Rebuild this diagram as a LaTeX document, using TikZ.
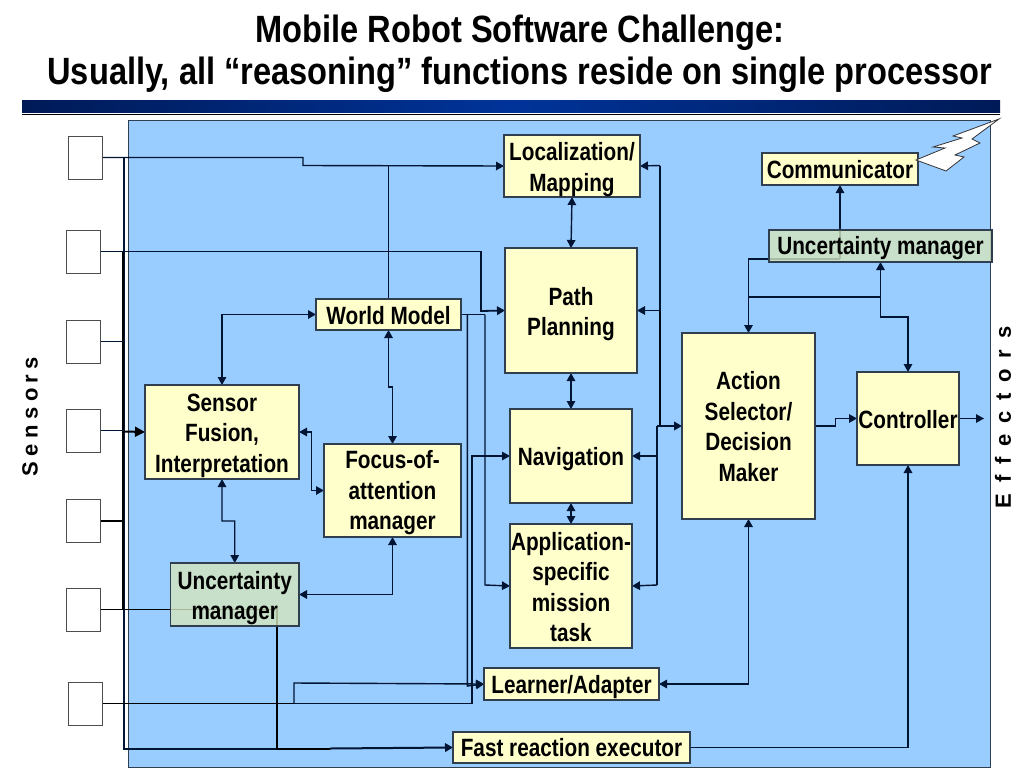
\documentclass[tikz,border=0pt]{standalone}
\usepackage{fontspec}
\setmainfont{Liberation Sans}
\newfontfamily\boxfont[FakeStretch=0.83]{Liberation Sans Bold}
\newfontfamily\titlefont[FakeStretch=0.858]{Liberation Sans Bold}
\newfontfamily\sidefont{Liberation Sans Bold}
\usetikzlibrary{arrows.meta,shadings}
\pgfdeclarelayer{panel}
\pgfdeclarelayer{wires}
\pgfsetlayers{panel,wires,main}
\definecolor{panelblue}{HTML}{99CCFF}
\definecolor{boxyellow}{HTML}{FFFFCC}
\definecolor{boxgreen}{HTML}{D4E5BC}
\definecolor{edgegray}{HTML}{2F3F4F}
\definecolor{wire}{HTML}{001433}
\definecolor{barDark}{HTML}{001A57}
\definecolor{barLight}{HTML}{003399}
\tikzset{
  x=1pt,y=-1pt,
  blk/.style={draw=edgegray,line width=1.1pt,fill=boxyellow,inner sep=0pt,outer sep=0pt,align=center,
     font=\boxfont\fontsize{25}{30.5}\selectfont},
  grn/.style={blk,fill=boxgreen,fill opacity=0.8,text opacity=1},
  sensorbox/.style={draw=black!70,line width=1pt,fill=white,inner sep=0pt,outer sep=0pt,minimum width=34.5pt,minimum height=43pt},
  wr/.style={draw=wire,line width=1.4pt,line join=miter},
  thk/.style={draw=black,line width=2pt},
  one/.style={wr,-{Triangle[length=8pt,width=8.5pt]}},
  two/.style={wr,{Triangle[length=8pt,width=8.5pt]}-{Triangle[length=8pt,width=8.5pt]}},
}
\newcommand{\bx}[6][blk]{%
  \node[#1,minimum width=#5pt-#3pt,minimum height=#6pt-#4pt,anchor=north west] (#2) at (#3,#4)}
\newcommand{\dn}[1]{\rule{0pt}{#1pt}}
\begin{document}
\begin{tikzpicture}
\useasboundingbox (0,0) rectangle (1024,768);
% title
\node[font=\titlefont\fontsize{38}{42}\selectfont,align=center,inner sep=0pt] (title) at (520,53.5)
  {Mobile Robot Software Challenge:\\Usually, all “reasoning” functions reside on single processor};
\begin{pgfonlayer}{panel}
  \fill[white] (0,0) rectangle (1024,768);
  \shade[left color=barDark,right color=barDark,middle color=barLight] (22,100) rectangle (1000,112);
  \draw[black,line width=1pt] (22,114.5) -- (1000,114.5);
  \draw[draw=edgegray,line width=1pt,fill=panelblue] (128,120) rectangle (990,767);
\end{pgfonlayer}
% sensors
\node[sensorbox,anchor=north west] (s1) at (68,136) {};
\node[sensorbox,anchor=north west] (s2) at (66,230) {};
\node[sensorbox,anchor=north west] (s3) at (66,320) {};
\node[sensorbox,anchor=north west] (s4) at (66,409) {};
\node[sensorbox,anchor=north west] (s5) at (66,499) {};
\node[sensorbox,anchor=north west] (s6) at (66,588) {};
\node[sensorbox,anchor=north west] (s7) at (68,682) {};
% blocks
\bx{loc}{504}{135}{640}{197} {\dn{25}Localization/\\Mapping};
\bx{path}{505}{248}{637}{373} {\dn{25}Path\\Planning};
\bx{wm}{316}{299}{461}{330} {\dn{20}World Model};
\bx{fus}{145}{385}{299}{479} {\dn{25}Sensor\\Fusion,\\Interpretation};
\bx{foc}{324}{444}{461}{537} {\dn{23}Focus-of-\\attention\\manager};
\bx{nav}{510}{409}{632}{503} {\dn{24}Navigation};
\bx{app}{510}{524}{632}{648} {\dn{20}Application-\\specific\\mission\\task};
\bx[grn]{uml}{170.5}{563}{299}{626} {\dn{25}Uncertainty\\manager};
\bx{lrn}{484}{668}{659}{700} {\dn{24}Learner/Adapter};
\bx{fast}{453}{732}{690}{763} {Fast reaction executor};
\bx{act}{682}{333}{815}{519} {\dn{19}Action\\Selector/\\Decision\\Maker};
\bx{ctl}{857}{372}{959}{465} {\dn{20}Controller};
\bx{com}{762}{153}{918}{185} {\dn{20}Communicator};
\bx[grn]{umr}{769}{230}{992}{262} {\dn{22}Uncertainty manager};
% lightning
\draw[draw=black!80,line width=0.8pt,fill=white,line join=miter]
  (916,160) -- (945,148) -- (933,147) -- (962,138) -- (953,136) -- (999,119) -- (972,139) -- (980,143) -- (955,155) -- (964,157) -- (946,171) -- cycle;
% side labels
\node[font=\sidefont\fontsize{22}{24}\selectfont,rotate=90,inner sep=0pt] (senslbl) at (30,416.5) {\spaceskip=5.4pt S e n s o r s};
\node[font=\sidefont\fontsize{22}{24}\selectfont,rotate=90,inner sep=0pt] (efflbl) at (1003,417.5) {\spaceskip=10.8pt E f f e c t o r s};
\coordinate (efftip) at (984,418.5);
\begin{pgfonlayer}{wires}
  % bus
  \coordinate (bus7) at (124,749);
  \draw[wr,line width=1.1pt] (124,158) -- (bus7) -- (277,749);
  \draw[black,line width=1.5pt] (123,251.5) -- (123,610);
  % sensors out
  \draw[one] (s1.east) -- (303,157.5) -- (303,165.5) -- (loc.west);
  \draw[wr] (s2.east) -- (481,251.5) -- (481,311.5);
  \draw[one,line width=1.8pt] (481,311) -- (path.west);
  \draw[wr] (s3.east) -- (124,341.5);
  \draw[wr] (s4.east) -- (124,430.5);
  \draw[thk,-{Triangle[length=10pt,width=10pt]}] (124,431.5) -- (fus.west);
  \draw[black,line width=2pt] (s5.east) -- (123,520.5);
  \draw[thk,line width=1.6pt] (s6.east) -- (277,609.5) -- (277,749);
  \draw[thk] (277,749) -- (330,749);
  \draw[one,line width=2pt] (330,748.5) -- (fast.west);
  \draw[thk,line width=1.8pt] (s7.east) -- (294,703.5);
  \draw[one] (294,703.5) -- (472,703.5) -- (472,456) -- (nav.west);
  \draw[one] (294,703.5) -- (294,683) -- (lrn.west);
  % world model
  \draw[two] (fus.north) -- (222,314.5) -- (wm.west);
  \draw[two] (wm.south) -- (388.5,387) -- (392.5,387) -- (foc.north);
  \draw[wr] (wm.north) -- (388.5,165.5);
  \draw[wr] (wm.east) -- (485,314.5);
  \draw[one] (485,314.5) -- (485,585) -- (app.west);
  \draw[one] (467.3,314.5) -- (467.3,686) -- (lrn.west);
  % verticals
  \draw[two] (loc.south) -- (path.north);
  \draw[two] (path.south) -- (nav.north);
  \draw[two] (nav.south) -- (app.north);
  % fusion
  \draw[two] (fus.south) -- (222,521) -- (234.7,521) -- (uml.north);
  \draw[two] (fus.east) -- (311.5,432) -- (311.5,490.5) -- (foc.west);
  \draw[two] (uml.east) -- (392.5,594.5) -- (foc.south);
  % right bus
  \draw[black!50!wire,line width=2pt] (660,311) -- (660,426);
  \draw[one] (660,165.5) -- (loc.east);
  \draw[wr] (660,165.5) -- (660,311);
  \draw[one] (660,310.5) -- (path.east);
  \draw[one] (657,456) -- (nav.east);
  \draw[one] (657,585) -- (app.east);
  \draw[wr] (657,426) -- (657,585);
  \draw[one,line width=2pt] (657,426) -- (act.west);
  % learner action
  \draw[two] (lrn.east) -- (748.5,684) -- (act.south);
  % controller
  \draw[one] (fast.east) -- (908,747.5) -- (ctl.south);
  \draw[one] (act.east) -- (835.5,426) -- (835.5,418.5) -- (ctl.west);
  \draw[one] (ctl.east) -- (efftip);
  % top right
  \draw[wr,{Triangle[length=8pt,width=8.5pt]}-] (act.north) -- (748.5,259) -- (840,259);
  \draw[one] (840,259) -- (com.south);
  \draw[wr] (748.5,297) -- (880.5,297);
  \draw[one] (880.5,297) -- (umr.south);
  \draw[one] (880.5,297) -- (880.5,317) -- (908,317) -- (ctl.north);
\end{pgfonlayer}
\end{tikzpicture}
\end{document}
